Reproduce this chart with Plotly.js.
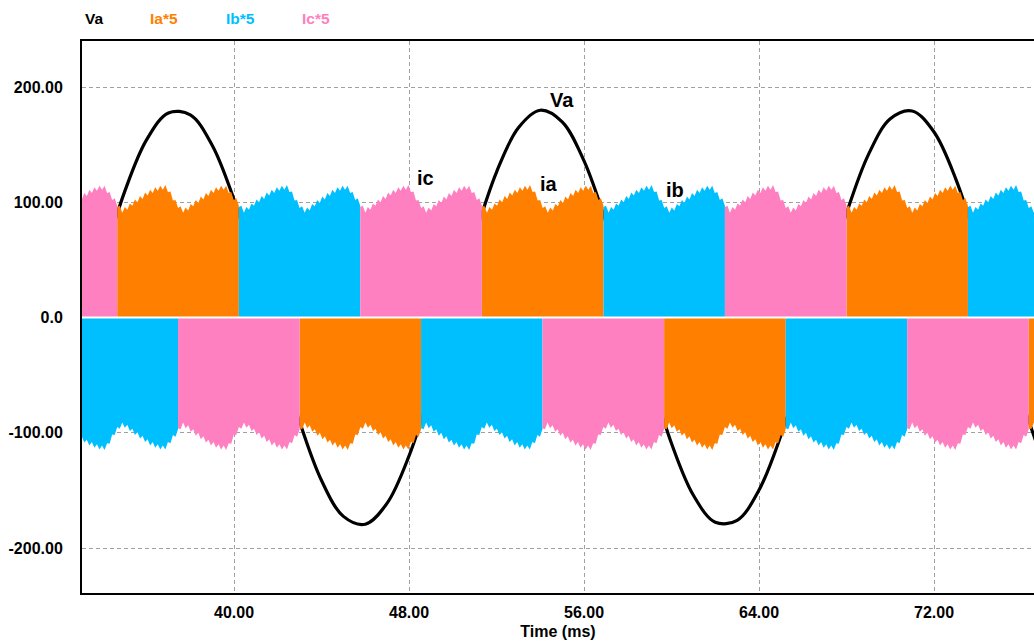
<!DOCTYPE html>
<html>
<head>
<meta charset="utf-8">
<script src="https://cdn.plot.ly/plotly-3.0.1.min.js"></script>
<style>
  html, body { margin: 0; padding: 0; background: #ffffff; }
  #chart { width: 1034px; height: 643px; }
</style>
</head>
<body>
<div id="chart"></div>
<script>
// ---- Data ----
// Va (V) sampled every 1 ms
const vaTime = [33,34,35,36,37,38,39,40,41,42,43,44,45,46,47,48,49,50,51,52,53,54,55,56,57,58,59,60,61,62,63,64,65,66,67,68,69,70,71,72,73,74,75,76,77];
const vaValues = [-18.3,48.9,109.3,154.2,177.6,175.9,149.6,102.3,40.6,-26.8,-90.5,-141.4,-172.5,-179.3,-161.0,-120.0,-62.2,4.3,70.2,126.3,164.7,179.9,169.8,135.9,82.9,18.3,-48.9,-109.3,-154.2,-177.6,-175.9,-149.6,-102.3,-40.6,26.8,90.5,141.4,172.5,179.3,161.0,120.0,62.2,-4.3,-70.2,-126.3];

// Top edge of one 120-degree current block (A*5), evenly spaced across the block
const blockTop = [96,97,91,96,93.5,99,97,102.5,100,105.5,103,108.5,106,111,108,113,110,114.5,111,115,109,109.5,101.5,102,95,96.5,91,95.5,93,98.5,96.5,102,99.5,105,102.5,108,105.5,111,108,113,110,114.5,111,114.5,108,109,102,103.5,97];

// Conduction intervals (ms): [start, end]
const iaPos = [[34.66,40.22],[51.33,56.89],[68.00,73.55]];
const iaNeg = [[43.00,48.55],[59.66,65.22],[76.33,81.88]];
const ibPos = [[40.22,45.77],[56.89,62.44],[73.55,79.11]];
const ibNeg = [[31.88,37.44],[48.55,54.10],[65.22,70.77]];
const icPos = [[29.11,34.66],[45.77,51.33],[62.44,68.00]];
const icNeg = [[37.44,43.00],[54.10,59.66],[70.77,76.33]];

const seriesNames = ['Va','Ia*5','Ib*5','Ic*5'];
const seriesColors = ['#000000','#FF8000','#00BFFF','#FF80C0'];

const yTickVals = [-200,-100,0,100,200];
const yTickText = ['-200.00','-100.00','0.0','100.00','200.00'];
const xTickVals = [40,48,56,64,72];
const xTickText = ['40.00','48.00','56.00','64.00','72.00'];

const inlineLabels = ['Va','ia','ic','ib'];
const inlineX = [55.0,54.42,48.77,60.15];
const inlineY = [189,116,121,111];

// ---- Build traces ----
function buildPhase(pos, neg) {
  const blocks = pos.map(b => [b[0], b[1], 1])
    .concat(neg.map(b => [b[0], b[1], -1]))
    .sort((a, b) => a[0] - b[0]);
  const x = [], y = [];
  const n = blockTop.length - 1;
  blocks.forEach(([s, e, sg]) => {
    x.push(s); y.push(0);
    blockTop.forEach((v, k) => { x.push(s + (e - s) * k / n); y.push(sg * v); });
    x.push(e); y.push(0);
  });
  return { x, y };
}

const FONT = 'Liberation Sans, Arial, Helvetica, sans-serif';

const phases = [buildPhase(iaPos, iaNeg), buildPhase(ibPos, ibNeg), buildPhase(icPos, icNeg)];

const traces = [{
  type: 'scatter', mode: 'lines', name: seriesNames[0],
  x: vaTime, y: vaValues,
  line: { color: seriesColors[0], width: 3.2, shape: 'spline' },
  hoverinfo: 'skip', showlegend: false
}];
phases.forEach((p, i) => {
  traces.push({
    type: 'scatter', mode: 'lines', name: seriesNames[i + 1],
    x: p.x, y: p.y,
    fill: 'tozeroy', fillcolor: seriesColors[i + 1],
    line: { color: seriesColors[i + 1], width: 0 },
    hoverinfo: 'skip', showlegend: false
  });
});

const legendX = [0.001, 0.0696, 0.149, 0.229];
const annotations = seriesNames.map((nm, i) => ({
  xref: 'paper', yref: 'paper', x: legendX[i], y: 1.040,
  xanchor: 'left', yanchor: 'middle', showarrow: false,
  text: nm, font: { family: FONT, size: 15.5, weight: 700, color: seriesColors[i] }
})).concat(inlineLabels.map((t, i) => ({
  xref: 'x', yref: 'y', x: inlineX[i], y: inlineY[i],
  xanchor: 'center', yanchor: 'middle', showarrow: false,
  text: t, font: { family: FONT, size: 20, weight: 700, color: '#000000' }
})));

const layout = {
  width: 1034, height: 643, autosize: false,
  margin: { l: 82, r: 0, t: 41, b: 50, pad: 0 },
  paper_bgcolor: '#ffffff', plot_bgcolor: '#ffffff',
  showlegend: false,
  xaxis: {
    range: [33.05, 76.57], tickmode: 'array', tickvals: xTickVals, ticktext: xTickText,
    showgrid: true, gridcolor: '#a0a0a0', gridwidth: 1, griddash: '4px,3px',
    zeroline: false, showline: true, linecolor: '#000000', linewidth: 2, mirror: true,
    ticks: '', ticklabelstandoff: 4, automargin: false,
    tickfont: { family: FONT, size: 16, weight: 700, color: '#000000' },
    title: { text: 'Time (ms)', standoff: 6, font: { family: FONT, size: 16, weight: 700, color: '#000000' } }
  },
  yaxis: {
    range: [-239, 240], tickmode: 'array', tickvals: yTickVals, ticktext: yTickText,
    showgrid: true, gridcolor: '#a0a0a0', gridwidth: 1, griddash: '4px,3px',
    zeroline: false, showline: true, linecolor: '#000000', linewidth: 2, mirror: false,
    ticks: '', ticklabelstandoff: 14, automargin: false,
    tickfont: { family: FONT, size: 16, weight: 700, color: '#000000' }
  },
  shapes: [{
    type: 'line', xref: 'paper', yref: 'y', x0: 0, x1: 1, y0: 0, y1: 0,
    line: { color: '#ffffff', width: 2 }, layer: 'above'
  }],
  annotations: annotations
};

Plotly.newPlot('chart', traces, layout, { staticPlot: true, displayModeBar: false });
</script>
</body>
</html>
